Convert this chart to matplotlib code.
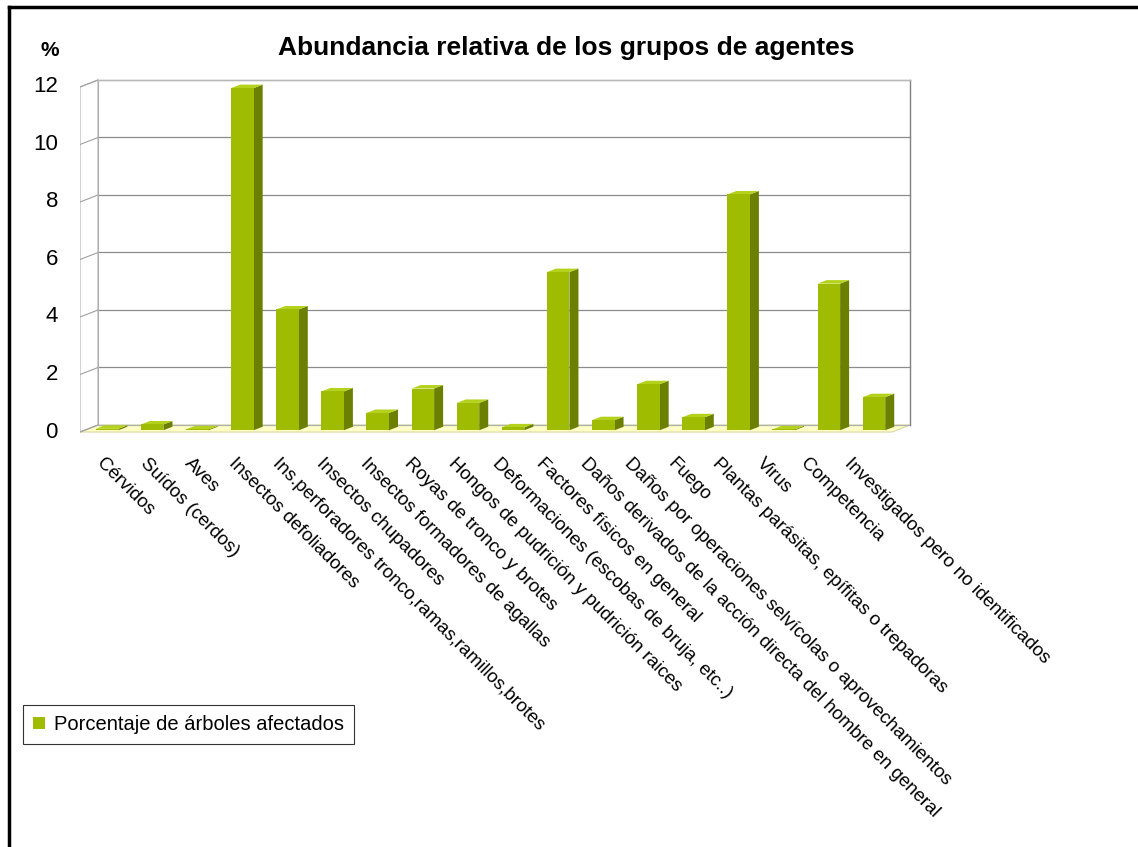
import numpy as np
import matplotlib
matplotlib.use('Agg')
import matplotlib.pyplot as plt
from matplotlib.patches import Polygon, Rectangle, Patch
from matplotlib.lines import Line2D

plt.rcParams['font.family'] = ['Liberation Sans', 'DejaVu Sans']

categorias = ['Cérvidos', 'Suídos (cerdos)', 'Aves', 'Insectos defoliadores',
              'Ins.perforadores tronco,ramas,ramillos,brotes', 'Insectos chupadores',
              'Insectos formadores de agallas', 'Royas de tronco y brotes',
              'Hongos de pudrición y pudrición raices',
              'Deformaciones (escobas de bruja, etc..)', 'Factores físicos en general',
              'Daños derivados de la acción directa del hombre en general',
              'Daños por operaciones selvícolas o aprovechamientos', 'Fuego',
              'Plantas parásitas, epífitas o trepadoras', 'Virus', 'Competencia',
              'Investigados pero no identificados']
porcentaje = [0.05, 0.2, 0.03, 11.9, 4.2, 1.35, 0.6, 1.45, 0.95,
              0.1, 5.5, 0.35, 1.6, 0.45, 8.2, 0.03, 5.1, 1.15]
y_ticks = [0, 2, 4, 6, 8, 10, 12]

titulo = 'Abundancia relativa de los grupos de agentes'
serie = 'Porcentaje de árboles afectados'

c_front = '#9fbc00'
c_side = '#6b7f00'
c_top = '#b4d21c'
c_floor = '#ffffc8'

W, H = 1138, 847
fig = plt.figure(figsize=(W / 100, H / 100), dpi=100)

# axes placed so that category/value units line up with the picture
px_x0, px_x1, px_y0, px_y1 = 80, 930, 60, 445
cat_px = (892 - 80) / 18
val_px = (432 - 87) / 12
ax = fig.add_axes([px_x0 / W, 1 - px_y1 / H, (px_x1 - px_x0) / W, (px_y1 - px_y0) / H])
ax.set_xlim((px_x0 - 80) / cat_px, (px_x1 - 80) / cat_px)
ax.set_ylim((432 - px_y1) / val_px, (432 - px_y0) / val_px)
ax.axis('off')

n = len(categorias)
ymax = 12
DX = 18 / cat_px   # depth offset
DY = 7 / val_px

# floor
ax.add_patch(Polygon([(0, 0), (n, 0), (n + DX, DY), (DX, DY)], closed=True,
                     facecolor=c_floor, edgecolor='#d8d8a0', lw=0.8, zorder=1))
# left wall
ax.add_patch(Polygon([(0, 0), (0, ymax), (DX, ymax + DY), (DX, DY)], closed=True,
                     facecolor='white', edgecolor='#b0b0b0', lw=0.8, zorder=1))
# back wall
ax.add_patch(Rectangle((DX, DY), n, ymax, facecolor='white', edgecolor='none', zorder=0.5))
for v in y_ticks:
    ax.plot([DX, n + DX], [v + DY, v + DY], color='#8c8c8c' if v > 0 else '#b0b0b0',
            lw=0.9, zorder=1.2)
    ax.plot([0, DX], [v, v + DY], color='#a0a0a0', lw=0.8, zorder=1.2)
    ax.text(-0.49, v, str(v), ha='right', va='center', fontsize=16, clip_on=False)
ax.plot([n + DX, n + DX], [DY, ymax + DY], color='#808080', lw=1.0, zorder=1.2)
ax.plot([DX, DX], [DY, ymax + DY], color='#b0b0b0', lw=0.8, zorder=1.2)
ax.plot([DX, n + DX], [ymax + DY, ymax + DY], color='#b8b8b8', lw=0.9, zorder=1.2)

# bars
for i, v in enumerate(porcentaje):
    x0 = i + 0.25 + 0.25 * DX
    y0 = 0.25 * DY
    x1 = x0 + 0.5
    ddx, ddy = 0.5 * DX, 0.5 * DY
    ax.add_patch(Polygon([(x1, y0), (x1, y0 + v), (x1 + ddx, y0 + v + ddy), (x1 + ddx, y0 + ddy)],
                         closed=True, facecolor=c_side, edgecolor='none', zorder=3))
    ax.add_patch(Polygon([(x0, y0 + v), (x1, y0 + v), (x1 + ddx, y0 + v + ddy), (x0 + ddx, y0 + v + ddy)],
                         closed=True, facecolor=c_top, edgecolor='none', zorder=3))
    ax.add_patch(Rectangle((x0, y0), 0.5, v, facecolor=c_front, edgecolor='none', zorder=4))

# category labels (excel spaces them slightly tighter than the bars)
lab_step = 44.0 / cat_px
lab_x0 = 25 / cat_px
for i, lab in enumerate(categorias):
    ax.text(lab_x0 + i * lab_step, -0.79, lab, rotation=-45, rotation_mode='anchor',
            ha='left', va='top', fontsize=13.5, clip_on=False)

fig.text(566 / W, 1 - 48 / H, titulo, ha='center', va='center', fontsize=19, fontweight='bold')
fig.text(50 / W, 1 - 51 / H, '%', ha='center', va='center', fontsize=15, fontweight='bold')

leg = fig.legend(handles=[Patch(facecolor=c_front, edgecolor='none', label=serie)],
                 loc='upper left', bbox_to_anchor=(23 / W, 1 - 705 / H), fontsize=14.5,
                 frameon=True, fancybox=False, edgecolor='black', handlelength=0.6,
                 handleheight=0.6, handletextpad=0.45, borderpad=0.5, borderaxespad=0)
leg.get_frame().set_linewidth(0.8)

# outer frame (only top and left visible)
fig.add_artist(Line2D([9 / W, 9 / W], [0, 1 - 7 / H], color='black', lw=2.5))
fig.add_artist(Line2D([9 / W, 1], [1 - 7 / H, 1 - 7 / H], color='black', lw=2.5))

fig.savefig('out.png', dpi=100)
